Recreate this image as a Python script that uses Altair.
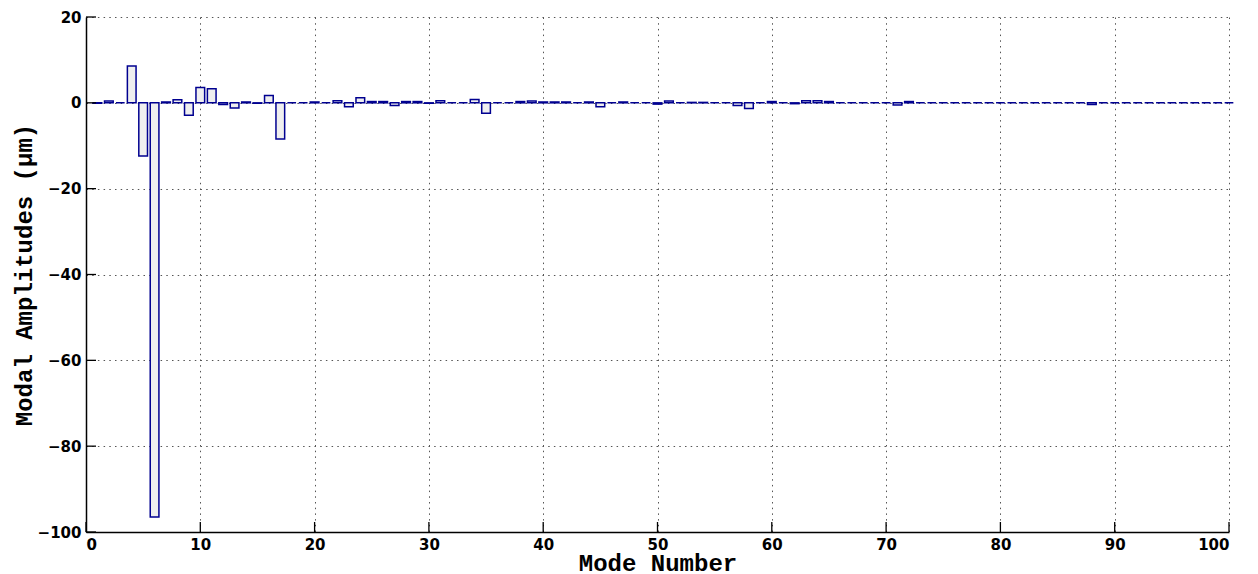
import altair as alt
import pandas as pd

modes = list(range(1, 101))
amplitudes = [
    -0.1, 0.4, 0.0, 8.6, -12.4, -96.5, 0.2, 0.7, -2.9, 3.6,
    3.3, -0.4, -1.2, 0.2, -0.1, 1.7, -8.4, 0.0, 0.0, 0.2,
    0.0, 0.5, -0.9, 1.2, 0.3, 0.3, -0.6, 0.3, 0.3, -0.1,
    0.5, 0.0, 0.0, 0.8, -2.4, 0.0, 0.0, 0.3, 0.4, 0.2,
    0.2, 0.2, 0.0, 0.2, -0.9, 0.0, 0.2, 0.0, 0.0, -0.3,
    0.4, 0.0, 0.1, 0.1, 0.0, 0.0, -0.6, -1.3, 0.0, 0.3,
    0.0, -0.2, 0.5, 0.5, 0.3, 0.0, 0.0, 0.0, 0.0, 0.0,
    -0.5, 0.3, 0.0, 0.0, 0.0, 0.0, 0.0, 0.0, 0.0, 0.0,
    0.0, 0.0, 0.0, 0.0, 0.0, 0.0, 0.0, -0.4, 0.0, 0.0,
    0.0, 0.0, 0.0, 0.0, 0.0, 0.0, 0.0, 0.0, 0.0, 0.0,
]
x_ticks = [0, 10, 20, 30, 40, 50, 60, 70, 80, 90, 100]
y_ticks = [-100, -80, -60, -40, -20, 0, 20]

half_w = 0.38
df = pd.DataFrame({
    "mode": modes,
    "amp": amplitudes,
})
df["x0"] = df["mode"] - half_w
df["x1"] = df["mode"] + half_w
df["base"] = 0.0

W, H = 1143, 515
xs = alt.Scale(domain=[0, 100], nice=False, zero=False)
ys = alt.Scale(domain=[-100, 20], nice=False, zero=False)

tick_font = "DejaVu Sans"
title_font = "Liberation Mono"
grid_kw = dict(grid=True, gridColor="#555555", gridDash=[1.5, 4.2], gridWidth=1)

base = alt.Chart(df)

bars = base.mark_rect(
    fill="#efefef", stroke="#000090", strokeWidth=1.5
).encode(
    x=alt.X("x0:Q", scale=xs, axis=alt.Axis(
        values=x_ticks, title="Mode Number", **grid_kw,
        tickSize=0, labelPadding=5, labelFont=tick_font, labelFontSize=15,
        labelFontWeight="bold", labelColor="black",
        domainColor="black", domainWidth=1.5,
        titleFont=title_font, titleFontSize=24, titleFontWeight="bold",
        titleColor="black", titleBaseline="alphabetic", titleY=38,
    )),
    x2="x1:Q",
    y=alt.Y("amp:Q", scale=ys, axis=alt.Axis(
        values=y_ticks, title="Modal Amplitudes (µm)", **grid_kw,
        tickSize=0, labelPadding=5, labelFont=tick_font, labelFontSize=15,
        labelFontWeight="bold", labelColor="black",
        domainColor="black", domainWidth=1.5,
        titleFont=title_font, titleFontSize=24, titleFontWeight="bold",
        titleColor="black", titleBaseline="alphabetic", titleX=-55,
    )),
    y2="base:Q",
)

xt_df = pd.DataFrame({"t": x_ticks})
yt_df = pd.DataFrame({"t": y_ticks})

xticks = alt.Chart(xt_df).mark_rule(color="black", strokeWidth=1.3).encode(
    x=alt.X("t:Q", scale=xs),
    y=alt.value(H),
    y2=alt.value(H - 10),
)
yticks = alt.Chart(yt_df).mark_rule(color="black", strokeWidth=1.3).encode(
    y=alt.Y("t:Q", scale=ys),
    x=alt.value(0),
    x2=alt.value(10),
)

chart = alt.layer(bars, xticks, yticks).properties(
    width=W, height=H,
    padding={"left": 78, "top": 9, "right": 18, "bottom": 48},
    autosize=alt.AutoSizeParams(type="none"),
    background="white",
).configure_view(stroke=None)

chart.save("out.html", embed_options={"renderer": "svg", "actions": False})
